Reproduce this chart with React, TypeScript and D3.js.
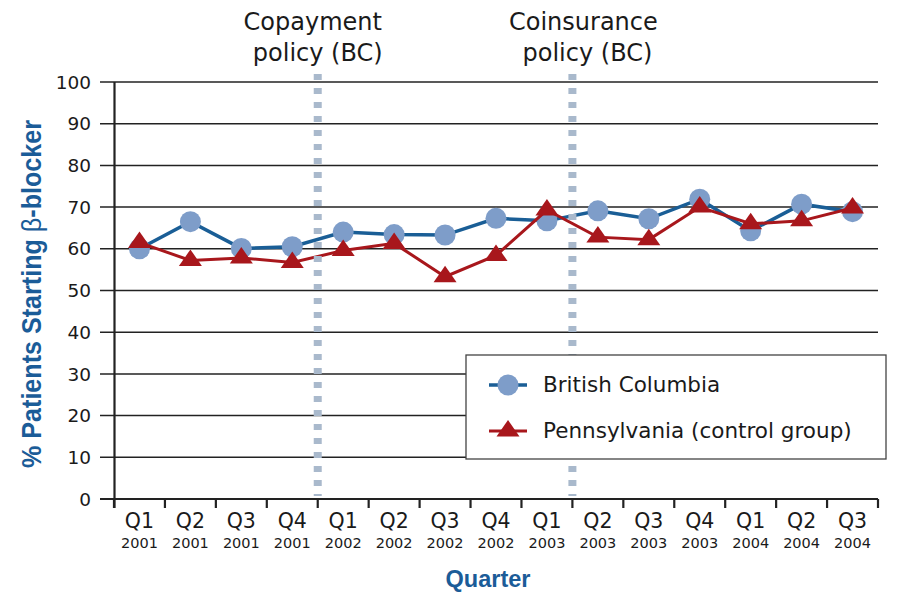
import React from "react";
import * as d3 from "d3";

const quarters = ["Q1","Q2","Q3","Q4","Q1","Q2","Q3","Q4","Q1","Q2","Q3","Q4","Q1","Q2","Q3"];
const years = ["2001","2001","2001","2001","2002","2002","2002","2002","2003","2003","2003","2003","2004","2004","2004"];
const bcValues = [60.0, 66.5, 60.1, 60.5, 64.0, 63.4, 63.3, 67.3, 66.7, 69.1, 67.2, 71.9, 64.3, 70.7, 68.9];
const paValues = [61.5, 57.2, 57.8, 56.7, 59.6, 61.3, 53.3, 58.4, 69.3, 62.8, 62.2, 70.0, 66.0, 66.7, 69.8];
const yTicks = [0, 10, 20, 30, 40, 50, 60, 70, 80, 90, 100];
const policyBreaks = [4, 9];
const policyLabels = [["Copayment", "policy (BC)"], ["Coinsurance", "policy (BC)"]];
const seriesNames = ["British Columbia", "Pennsylvania (control group)"];

const BLUE_TXT = "#1b5c98";
const BLUE_LINE = "#1a5e96";
const BLUE_FILL = "#7e9dc9";
const RED = "#a8171c";
const DASH = "#a9b9cc";
const INK = "#1a1a1a";
const FONT = "'DejaVu Sans', sans-serif";

export default function App() {
  const W = 905, H = 600;
  const idx = quarters.map((_, i) => String(i));
  const x = d3.scaleBand<string>().domain(idx).range([114, 878]).padding(0);
  const y = d3.scaleLinear().domain([0, 100]).range([499, 82]);
  const cx = (i: number) => (x(String(i)) as number) + x.bandwidth() / 2;

  const line = d3.line<number>().x((_, i) => cx(i)).y((d) => y(d));
  const tri = "M0,-11L11.5,5.5L-11.5,5.5Z";

  const boundaries = d3.range(quarters.length + 1).map((i) =>
    i < quarters.length ? (x(String(i)) as number) : 878
  );

  return (
    <svg width={W} height={H} style={{ position: "absolute", left: 0, top: 0, background: "#fff" }}>
      {yTicks.map((t) => (
        <line key={"g" + t} x1={100} x2={878} y1={y(t)} y2={y(t)} stroke="#222" strokeWidth={t === 0 ? 2.2 : 1.5} />
      ))}
      {yTicks.map((t) => (
        <text key={"yl" + t} x={91} y={y(t)} dy="0.36em" textAnchor="end" fontFamily={FONT} fontSize={18.5} fill={INK}>
          {t}
        </text>
      ))}
      <line x1={114.5} x2={114.5} y1={82} y2={508} stroke="#222" strokeWidth={2.2} />
      {boundaries.map((b, i) => (
        <line key={"xt" + i} x1={b} x2={b} y1={499} y2={508} stroke="#222" strokeWidth={2.2} />
      ))}
      {quarters.map((q, i) => (
        <g key={"xl" + i}>
          <text x={cx(i)} y={528} textAnchor="middle" fontFamily={FONT} fontSize={20.5} fill={INK}>{q}</text>
          <text x={cx(i)} y={548} textAnchor="middle" fontFamily={FONT} fontSize={14.5} fill={INK}>{years[i]}</text>
        </g>
      ))}
      <path d={line(bcValues) || ""} fill="none" stroke={BLUE_LINE} strokeWidth={3.5} />
      {bcValues.map((v, i) => (
        <circle key={"c" + i} cx={cx(i)} cy={y(v)} r={10.5} fill={BLUE_FILL} />
      ))}
      <path d={line(paValues) || ""} fill="none" stroke={RED} strokeWidth={3} />
      {paValues.map((v, i) => (
        <path key={"t" + i} d={tri} transform={`translate(${cx(i)},${y(v)})`} fill={RED} />
      ))}
      {policyBreaks.map((p, k) => {
        const bx = x(String(p)) as number;
        return (
          <g key={"p" + k}>
            <line x1={bx} x2={bx} y1={74} y2={496} stroke={DASH} strokeWidth={8} strokeDasharray="6 8" />
            <text x={bx + (k === 0 ? -5 : 11)} y={30} textAnchor="middle" fontFamily={FONT} fontSize={24} fill={INK}>{policyLabels[k][0]}</text>
            <text x={bx + (k === 0 ? 0 : 15)} y={61} textAnchor="middle" fontFamily={FONT} fontSize={24} fill={INK}>{policyLabels[k][1]}</text>
          </g>
        );
      })}
      <rect x={466} y={355} width={420} height={104} fill="#fff" stroke="#444" strokeWidth={1.3} />
      <line x1={489} x2={527} y1={385} y2={385} stroke={BLUE_LINE} strokeWidth={3.5} />
      <circle cx={508} cy={385} r={10.5} fill={BLUE_FILL} />
      <text x={543} y={392} fontFamily={FONT} fontSize={21.5} fill={INK}>{seriesNames[0]}</text>
      <line x1={489} x2={527} y1={431} y2={431} stroke={RED} strokeWidth={3} />
      <path d={tri} transform="translate(508,431)" fill={RED} />
      <text x={543} y={438} fontFamily={FONT} fontSize={21.5} fill={INK}>{seriesNames[1]}</text>
      <text x={488} y={587} textAnchor="middle" fontFamily="'Liberation Sans', Arial, sans-serif" fontWeight="bold" fontSize={23.5} fill={BLUE_TXT}>
        Quarter
      </text>
      <text
        transform="translate(41,294) rotate(-90)"
        textAnchor="middle"
        fontFamily="'Liberation Sans', Arial, sans-serif"
        fontWeight="bold"
        fontSize={27}
        fill={BLUE_TXT}
        textLength={348}
        lengthAdjust="spacingAndGlyphs"
      >
        % Patients Starting <tspan fontWeight="normal">β</tspan>-blocker
      </text>
    </svg>
  );
}
